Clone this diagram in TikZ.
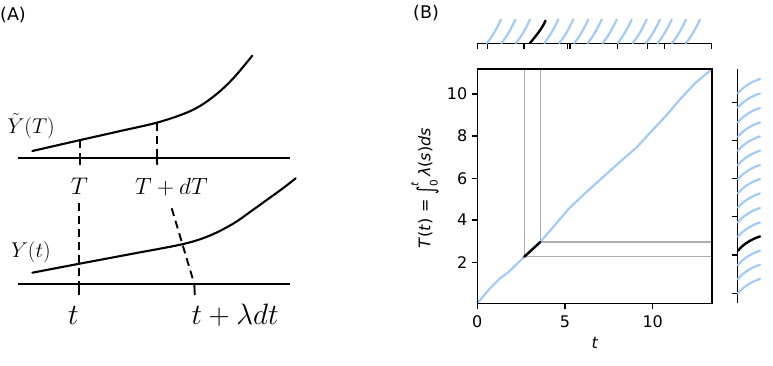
\documentclass[tikz,border=0pt]{standalone}
\usepackage{fontspec}
\usepackage{graphicx}
\newfontfamily\dejavu{DejaVu Sans}
\definecolor{lblue}{RGB}{163,203,248}
\definecolor{lgray}{RGB}{172,172,172}
\newcommand{\mlab}[2]{\fontsize{20.74}{24}\selectfont\scalebox{#1}{$#2$}}
\begin{document}
\begin{tikzpicture}[x=1pt,y=-1pt,
  curveA/.style={line width=2.1pt,line cap=round,line join=round},
  axisA/.style={line width=2.1pt},
  dashA/.style={line width=1.9pt,dash pattern=on 8pt off 5pt},
  tickA/.style={line width=1.9pt},
  spine/.style={line width=1.2pt},
  tickB/.style={line width=1.2pt},
  blueln/.style={lblue,line width=2.2pt,line join=round,line cap=round},
  blackln/.style={black,line width=2.4pt,line cap=round},
  grayln/.style={lgray,line width=1.4pt},
  ticklab/.style={font=\dejavu\fontsize{16}{16}\selectfont,inner sep=0pt},
  panellab/.style={font=\dejavu\fontsize{17.5}{18}\selectfont,inner sep=0pt},
  mathlab/.style={inner sep=0pt}
]
\useasboundingbox (0,0) rectangle (773,365);

% ---------------- Panel A ----------------
\node[panellab] (labA) at (13,15) {(A)};

% upper axis and curve
\coordinate (uL) at (18,157.7);
\coordinate (uR) at (290,157.7);
\draw[axisA] (uL) -- (uR);
\coordinate (ucT) at (80,140.1);
\coordinate (ucdT) at (156.7,122.7);
\draw[curveA] plot[smooth,tension=0.55] coordinates {(32.3,151) (80,140.1) (120,131.1) (156.7,122.7) (183.3,114) (200,106) (216.7,94) (233.3,78.3) (252.3,55.7)};

% lower axis and curve
\coordinate (lL) at (18,284);
\coordinate (lR) at (290,284);
\draw[axisA] (lL) -- (lR);
\draw[curveA] plot[smooth,tension=0.55] coordinates {(32.3,272.7) (79,263.8) (130,254.2) (183.3,244) (210,235.5) (233.3,223.6) (250,212) (266.7,200) (283.3,188) (295.7,178.3)};

% dashed guides
\coordinate (uTa) at (80,157.7);
\coordinate (uTb) at (80,165);
\coordinate (udTa) at (156.7,157.7);
\coordinate (udTb) at (157.3,165);
\draw[dashA] (ucT) -- (uTa);
\draw[tickA] (uTa) -- (uTb);
\draw[dashA] (ucdT) -- (udTa);
\draw[tickA] (udTa) -- (udTb);

\coordinate (lTs) at (79,203.3);
\coordinate (lTa) at (79,284);
\coordinate (lTb) at (79,295);
\coordinate (ldTs) at (171.7,208.3);
\coordinate (ldTa) at (194.3,284);
\coordinate (ldTb) at (194.8,295);
\draw[dashA] (lTs) -- (lTa);
\draw[tickA] (lTa) -- (lTb);
\draw[dashA] (ldTs) -- (ldTa);
\draw[tickA] (ldTa) -- (ldTb);

% labels
\node[mathlab,anchor=base west] (lYt) at (7.5,133.3) {\mlab{1.03}{\tilde{Y}(T)}};
\node[mathlab,anchor=base] (lT) at (79.5,194.3) {\mlab{1.16}{T}};
\node[mathlab,anchor=base west] (lTdT) at (135,194.3) {\mlab{1.13}{T+dT}};
\node[mathlab,anchor=base west] (lY) at (11,257.3) {\mlab{1.03}{Y(t)}};
\node[mathlab,anchor=base west] (lt) at (68,324) {\mlab{1.42}{t}};
\node[mathlab,anchor=base west] (ltl) at (191.5,324) {\mlab{1.42}{t+\lambda dt}};

% ---------------- Panel B ----------------
\node[panellab] (labB) at (426,13.5) {(B)};

% main axes
\coordinate (axNW) at (477.3,69);
\coordinate (axSE) at (712,303.3);

% gray guide lines
\coordinate (pA) at (524.3,256.7);
\coordinate (pB) at (540.3,242);
\coordinate (pAt) at (524.3,69);
\coordinate (pBt) at (540.3,69);
\coordinate (pAr) at (712,256.7);
\coordinate (pBr) at (712,242);
\draw[grayln] (pA) -- (pAt);
\draw[grayln] (pB) -- (pBt);
\draw[grayln] (pA) -- (pAr);
\draw[grayln] (pB) -- (pBr);

% blue curve
\draw[blueln] (477.3,303.3) -- (490,288.3) -- (500,278.3) -- (508.3,272.3) -- (pA) -- (pB)
  -- (554.3,225.7) -- (568.3,209.3) -- (585,193.3) -- (601.7,178.3) -- (618.3,163.3)
  -- (636.7,147.3) -- (651.7,131) -- (666.7,115) -- (680,99.3) -- (695,83.3) -- (712,69);
\draw[blackln] (pA) -- (pB);

\draw[spine] (axNW) rectangle (axSE);

% y ticks
\foreach \v/\y in {10/94,8/136,6/178.3,4/220,2/262.3}{
  \coordinate (yt\v a) at (471.5,\y);
  \coordinate (yt\v b) at (477.3,\y);
  \draw[tickB] (yt\v a) -- (yt\v b);
  \node[ticklab,anchor=east] (ytl\v) at (467.5,\y) {\v};
}
% x ticks
\foreach \v/\x in {0/477.3,5/565,10/652.7}{
  \coordinate (xt\v a) at (\x,303.3);
  \coordinate (xt\v b) at (\x,309);
  \draw[tickB] (xt\v a) -- (xt\v b);
  \node[ticklab] (xtl\v) at (\x,321.7) {\v};
}
\node[ticklab] (xlab) at (595,342.5) {\textit{t}};
\node[ticklab,rotate=90] (ylab) at (425,188) {\textit{T}(\textit{t}) = \raisebox{-0.22em}{\scalebox{1}[1.45]{∫}}\rlap{\raisebox{0.75em}{\fontsize{10.5}{11}\selectfont\textit{t}}}\raisebox{-0.45em}{\fontsize{10.5}{11}\selectfont 0}\,\textit{λ}(\textit{s})\textit{ds}};

% top strip
\coordinate (tsL) at (477.3,43.3);
\coordinate (tsR) at (711.7,43.3);
\draw[spine] (tsL) -- (tsR);
\foreach \x [count=\i] in {477.3,487.3,524,567.7,570,617.7,647.7,664.3,711.7}{
  \coordinate (tt\i a) at (\x,43.3);
  \coordinate (tt\i b) at (\x,48.6);
  \draw[tickB] (tt\i a) -- (tt\i b);
}
\foreach \xt in {501,515.5,530,558.3,573.3,588.3,601.7,616.7,631.7,646.7,660,671.7,686,700}{
  \draw[blueln] (\xt-14,43) .. controls +(5.5,-6.5) and +(-3.5,7.5) .. (\xt,19.5);
}
\draw[blackln] (530,43) .. controls +(5.5,-6.5) and +(-3.5,8) .. (545.5,20.7);

% right strip
\coordinate (rsT) at (737.7,69);
\coordinate (rsB) at (737.7,303.3);
\draw[spine] (rsT) -- (rsB);
\foreach \y [count=\i] in {102.7,140.7,178.7,216.7,255,293.3}{
  \coordinate (rt\i a) at (731.7,\y);
  \coordinate (rt\i b) at (737.7,\y);
  \draw[tickB] (rt\i a) -- (rt\i b);
}
\foreach \ys in {93.3,107.7,122.3,136.7,150.7,165,179.3,193.3,207.7,222.3,236.7,265,279,293.3}{
  \draw[blueln] (738,\ys) .. controls +(5,-6.5) and +(-8,2.5) .. (760,\ys-14.3);
}
\draw[blackln] (738,250.7) .. controls +(5,-6.5) and +(-8,2.5) .. (760,236.4);
\end{tikzpicture}
\end{document}
